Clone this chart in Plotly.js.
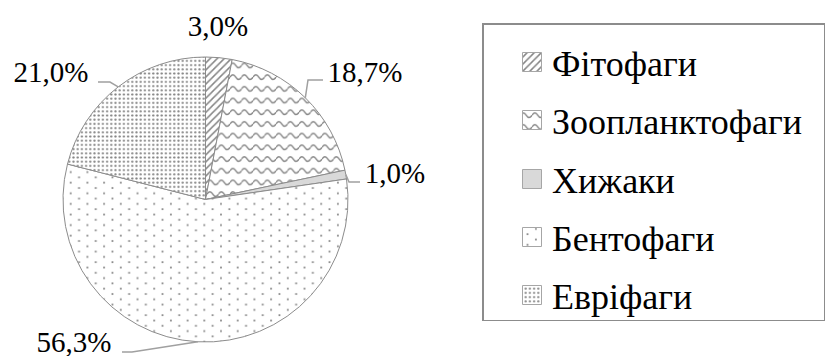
<!DOCTYPE html>
<html>
<head>
<meta charset="utf-8">
<script src="https://cdn.plot.ly/plotly-3.0.1.min.js"></script>
<style>
  html, body { margin: 0; padding: 0; background: #fff; }
  #chart { width: 827px; height: 356px; }
</style>
</head>
<body>
<div id="chart"></div>
<script>
// Feeding groups of fish and their share, %
const groups = ['Фітофаги', 'Зоопланктофаги', 'Хижаки', 'Бентофаги', 'Евріфаги'];
const shares = [3.0, 18.7, 1.0, 56.3, 21.0];

const W = 827, H = 356;
const SERIF = 'Liberation Serif';
const GREY = '#8c8c8c';

// pie placement in pixels
const PIE = { cx: 205.5, cy: 199.5, r: 142.5 };

// value label placement (pixels): text centre and leader elbow / end
const LABEL_POS = [
  { x: 218, y: 26 },
  { x: 365, y: 72, elbow: [308, 80], end: [323, 80] },
  { x: 395, y: 173, elbow: [349, 182], end: [360, 182] },
  { x: 74, y: 342, elbow: [132, 352], end: [122, 352] },
  { x: 51, y: 72, elbow: [110, 82], end: [98, 82] }
];

// legend box geometry (pixels)
const LEG = { x: 482, y: 23, w: 343, h: 298, iconX: 50, textX: 70, row0: 39, rowStep: 58.3, icon: 9.5 };

const px = v => v / W;
const py = v => 1 - v / H;
const fmt = v => v.toFixed(1).replace('.', ',') + '%';

// point on the rim at the middle of each slice (clockwise from 12 o'clock)
const total = shares.reduce((a, b) => a + b, 0);
let acc = 0;
const rimPoints = shares.map(v => {
  const mid = (acc + v / 2) / total * 2 * Math.PI;
  acc += v;
  return [PIE.cx + PIE.r * Math.sin(mid), PIE.cy - PIE.r * Math.cos(mid)];
});

const annotations = shares.map((v, i) => ({
  text: fmt(v),
  xref: 'paper', yref: 'paper',
  x: px(LABEL_POS[i].x), y: py(LABEL_POS[i].y),
  xanchor: 'center', yanchor: 'middle',
  showarrow: false,
  font: { family: SERIF, size: 29, color: '#000' }
}));

// descenders of the line of text above the figure
const topLetters = [['р', 505], ['у', 541], ['р', 667], ['р', 710]];
topLetters.forEach(([t, x]) => annotations.push({
  text: t, xref: 'paper', yref: 'paper', x: px(x), y: 1 + 26 / H,
  xanchor: 'center', yanchor: 'middle', showarrow: false,
  font: { family: SERIF, size: 36, color: '#000' }
}));

const shapes = [];
LABEL_POS.forEach((p, i) => {
  if (!p.elbow) return;
  const [ex, ey] = rimPoints[i];
  shapes.push({
    type: 'path', xref: 'paper', yref: 'paper',
    path: `M${px(ex)},${py(ey)} L${px(p.elbow[0])},${py(p.elbow[1])} L${px(p.end[0])},${py(p.end[1])}`,
    line: { color: '#a0a0a0', width: 1.5 }
  });
});

const trace = {
  type: 'pie',
  labels: groups,
  values: shares,
  sort: false,
  direction: 'clockwise',
  rotation: 0,
  textinfo: 'none',
  hoverinfo: 'skip',
  domain: { x: [px(PIE.cx - PIE.r), px(PIE.cx + PIE.r)], y: [py(PIE.cy + PIE.r), py(PIE.cy - PIE.r)] },
  marker: {
    colors: ['#ffffff', '#ffffff', '#d9d9d9', '#ffffff', '#ffffff'],
    line: { color: GREY, width: 1 },
    pattern: {
      shape: ['/', '', '', '', '.'],
      size: [5, 8, 8, 8, 4.2],
      solidity: [0.3, 0.2, 0.2, 0.2, 0.22],
      fgcolor: '#858585',
      bgcolor: '#ffffff',
      fillmode: 'replace'
    }
  }
};

const layout = {
  width: W, height: H,
  margin: { l: 0, r: 0, t: 0, b: 0 },
  paper_bgcolor: '#fff',
  font: { family: SERIF },
  separators: ', ',
  showlegend: true,
  legend: {
    x: 0.6, y: 0.93, xanchor: 'left', yanchor: 'top',
    font: { family: SERIF, size: 36, color: '#000' },
    bgcolor: '#fff', bordercolor: GREY, borderwidth: 1.5
  },
  annotations,
  shapes
};

const NS = 'http://www.w3.org/2000/svg';
function el(tag, attrs, parent) {
  const e = document.createElementNS(NS, tag);
  for (const k in attrs) e.setAttribute(k, attrs[k]);
  if (parent) parent.appendChild(e);
  return e;
}

// wavy and staggered-dot fills that Plotly has no built-in shape for
function addFills(gd) {
  const svg = gd.querySelector('svg.main-svg');
  const defs = svg.querySelector('defs') || el('defs', {}, svg);
  const wave = el('pattern', { id: 'fill-wave', patternUnits: 'userSpaceOnUse', width: 11.5, height: 11.7 }, defs);
  el('rect', { width: 11.5, height: 11.7, fill: '#fff' }, wave);
  el('path', { d: 'M0,7 Q2.875,2.4 5.75,7 T11.5,7', fill: 'none', stroke: '#858585', 'stroke-width': 1.4 }, wave);

  const sparse = el('pattern', { id: 'fill-sparse', patternUnits: 'userSpaceOnUse', width: 16.7, height: 10.6 }, defs);
  el('rect', { width: 16.7, height: 10.6, fill: '#fff' }, sparse);
  el('rect', { x: 3, y: 1.6, width: 1.8, height: 1.8, fill: '#8a8a8a' }, sparse);
  el('rect', { x: 11.35, y: 6.9, width: 1.8, height: 1.8, fill: '#8a8a8a' }, sparse);

  const custom = { 1: 'url(#fill-wave)', 3: 'url(#fill-sparse)' };
  const slices = gd.querySelectorAll('g.slice path.surface');
  const icons = gd.querySelectorAll('g.legend g.traces path.legendpie');
  Object.keys(custom).forEach(k => {
    if (slices[k]) { slices[k].style.fill = custom[k]; slices[k].style.fillOpacity = 1; }
    if (icons[k]) { icons[k].style.fill = custom[k]; icons[k].style.fillOpacity = 1; }
  });
}

// spread legend rows and enlarge the swatches
function arrangeLegend(gd) {
  const leg = gd.querySelector('g.legend');
  if (!leg) return;
  leg.setAttribute('transform', `translate(${LEG.x},${LEG.y})`);
  const bg = leg.querySelector('rect.bg');
  if (bg) {
    bg.setAttribute('x', 0.75); bg.setAttribute('y', 0.75);
    bg.setAttribute('width', LEG.w - 1.5); bg.setAttribute('height', LEG.h - 1.5);
  }
  const sb = leg.querySelector('g.scrollbox');
  if (sb) { sb.removeAttribute('clip-path'); sb.setAttribute('transform', 'translate(0,0)'); }
  leg.querySelectorAll('g.traces').forEach((g, i) => {
    g.setAttribute('transform', `translate(0,${Math.round(LEG.row0 + i * LEG.rowStep)})`);
    const icon = g.querySelector('path.legendpie');
    if (icon) {
      const s = LEG.icon;
      icon.setAttribute('d', `M${s},${s}H${-s}V${-s}H${s}Z`);
      icon.setAttribute('transform', `translate(${LEG.iconX},0)`);
      icon.style.stroke = '#a6a6a6';
      icon.style.strokeWidth = '1px';
    }
    const t = g.querySelector('text.legendtext');
    if (t) t.setAttribute('x', LEG.textX);
  });
  const bar = leg.querySelector('rect.scrollbar');
  if (bar) bar.remove();
}

// keep glyphs on whole pixels so the serifs stay crisp
function snapText(gd) {
  const snap = node => {
    const tr = node.getAttribute('transform');
    if (tr) {
      node.setAttribute('transform', tr.replace(/translate\(\s*([-\d.e]+)[\s,]+([-\d.e]+)\s*\)/,
        (m, a, b) => `translate(${Math.round(+a)},${Math.round(+b)})`));
    }
  };
  gd.querySelectorAll('g.annotation, g.annotation g, g.legend g.traces').forEach(snap);
  gd.querySelectorAll('text').forEach(t => {
    ['x', 'y'].forEach(k => {
      const v = parseFloat(t.getAttribute(k));
      if (!isNaN(v)) t.setAttribute(k, Math.round(v));
    });
  });
}

const gd = document.getElementById('chart');
Plotly.newPlot(gd, [trace], layout, { staticPlot: true, displayModeBar: false }).then(() => {
  arrangeLegend(gd);
  addFills(gd);
  snapText(gd);
});
</script>
</body>
</html>
